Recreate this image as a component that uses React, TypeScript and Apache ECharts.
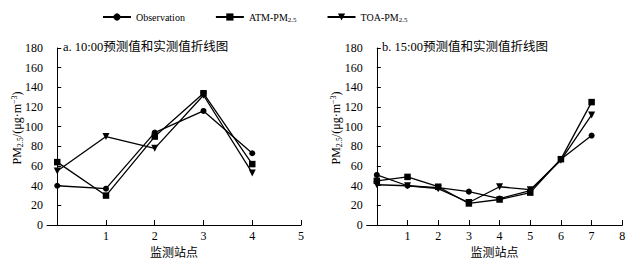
import React, { useEffect, useRef } from "react";
import * as echarts from "echarts";

const seriesNames = ["Observation", "ATM-PM2.5", "TOA-PM2.5"];
const symbols = ["circle", "rect", "triangle"];

const stationsA = [0, 1, 2, 3, 4];
const obsA = [40, 37, 94, 116, 73];
const atmA = [64, 30, 90, 134, 62];
const toaA = [55, 90, 78, 132, 53];

const stationsB = [0, 1, 2, 3, 4, 5, 6, 7];
const obsB = [51, 40, 38, 34, 27, 35, 67, 91];
const atmB = [45, 49, 39, 22, 26, 33, 67, 125];
const toaB = [41, 40, 37, 23, 39, 36, 66, 112];

const xTicksA = [1, 2, 3, 4, 5];
const xTicksB = [1, 2, 3, 4, 5, 6, 7, 8];

const titleA = "a. 10:00预测值和实测值折线图";
const titleB = "b. 15:00预测值和实测值折线图";
const xName = "监测站点";

const FONT = '"Liberation Serif", "Noto Sans CJK SC", serif';

export default function App() {
  const ref = useRef<HTMLDivElement>(null);
  useEffect(() => {
    if (!ref.current) return;
    const chart = echarts.init(ref.current, null, { renderer: "svg" });
    const dataA = [obsA, atmA, toaA];
    const dataB = [obsB, atmB, toaB];
    const sizes = [6, 6.5, 7];
    const mkSeries = (idx: number, xs: number[], vals: number[][]) =>
      vals.map((v, i) => ({
        type: "line",
        name: seriesNames[i],
        xAxisIndex: idx,
        yAxisIndex: idx,
        data: xs.map((x, k) => [x, v[k]]),
        symbol: symbols[i],
        symbolSize: sizes[i],
        symbolRotate: i === 2 ? 180 : 0,
        showSymbol: true,
        lineStyle: { color: "#000", width: 1.3 },
        itemStyle: { color: "#000" },
        z: 3 - i,
      }));

    const yAxisCommon = {
      type: "value",
      min: 0,
      max: 180,
      interval: 20,
      axisLine: { show: true, lineStyle: { color: "#000", width: 1 } },
      axisTick: { show: true, inside: true, length: 4, lineStyle: { color: "#000" } },
      axisLabel: { color: "#000", fontFamily: FONT, fontSize: 12, margin: 4 },
      splitLine: { show: false },
    };
    const xAxisCommon = (min: number, max: number, ticks: number[]) => ({
      type: "value",
      min,
      max,
      axisLine: { show: true, onZero: false, lineStyle: { color: "#000", width: 1 } },
      axisTick: {
        show: true,
        inside: true,
        length: 5,
        customValues: ticks,
        lineStyle: { color: "#000" },
      },
      axisLabel: {
        color: "#000",
        fontFamily: FONT,
        fontSize: 12,
        margin: 5,
        customValues: ticks,
      },
      splitLine: { show: false },
      name: xName,
      nameLocation: "middle",
      nameGap: 19,
      nameTextStyle: { color: "#000", fontFamily: FONT, fontSize: 12 },
    });

    const richName = {
      m: { fontFamily: FONT, fontSize: 12, color: "#000", lineHeight: 14 },
      sub: { fontFamily: FONT, fontSize: 8, color: "#000", verticalAlign: "bottom", lineHeight: 8 },
      sup: { fontFamily: FONT, fontSize: 8, color: "#000", verticalAlign: "top", lineHeight: 8 },
    };
    const yNameText = "{m|PM}{sub|2.5}{m|/(μg·m}{sup|−3}{m|)}";

    chart.setOption({
      animation: false,
      backgroundColor: "#fff",
      title: [
        {
          text: titleA,
          left: 63,
          top: 41,
          padding: 0,
          textStyle: { fontFamily: FONT, fontSize: 12.5, fontWeight: "normal", color: "#000" },
        },
        {
          text: titleB,
          left: 382,
          top: 41,
          padding: 0,
          textStyle: { fontFamily: FONT, fontSize: 12.5, fontWeight: "normal", color: "#000" },
        },
      ],
      legend: {
        left: 102,
        top: 12,
        itemWidth: 28,
        itemHeight: 9,
        itemGap: 30,
        padding: 0,
        data: seriesNames,
        lineStyle: { width: 2 },
        formatter: (name: string) =>
          name === "Observation" ? "{m|Observation}" : "{m|" + name.replace("2.5", "") + "}{sub|2.5}",
        textStyle: {
          color: "#000",
          fontFamily: FONT,
          fontSize: 10,
          rich: {
            m: { fontFamily: FONT, fontSize: 10, color: "#000", lineHeight: 12 },
            sub: { fontFamily: FONT, fontSize: 7, color: "#000", verticalAlign: "bottom", lineHeight: 7 },
          },
        },
      },
      grid: [
        { left: 47, top: 48, width: 254, height: 178.7, containLabel: false },
        { left: 366.7, top: 48, width: 255.6, height: 178.7, containLabel: false },
      ],
      xAxis: [
        { ...xAxisCommon(-0.21, 5, xTicksA), gridIndex: 0 },
        { ...xAxisCommon(-0.33, 8, xTicksB), gridIndex: 1 },
      ],
      yAxis: [
        { ...yAxisCommon, gridIndex: 0 },
        { ...yAxisCommon, gridIndex: 1 },
      ],
      graphic: [
        {
          type: "text",
          x: 17,
          y: 128,
          rotation: Math.PI / 2,
          style: { text: yNameText, rich: richName, align: "center", verticalAlign: "middle" },
        },
        {
          type: "text",
          x: 336,
          y: 128,
          rotation: Math.PI / 2,
          style: { text: yNameText, rich: richName, align: "center", verticalAlign: "middle" },
        },
      ],
      series: [...mkSeries(0, stationsA, dataA), ...mkSeries(1, stationsB, dataB)],
    });
    return () => chart.dispose();
  }, []);
  return <div ref={ref} style={{ width: 640, height: 264, position: "absolute", left: 0, top: 0 }} />;
}
